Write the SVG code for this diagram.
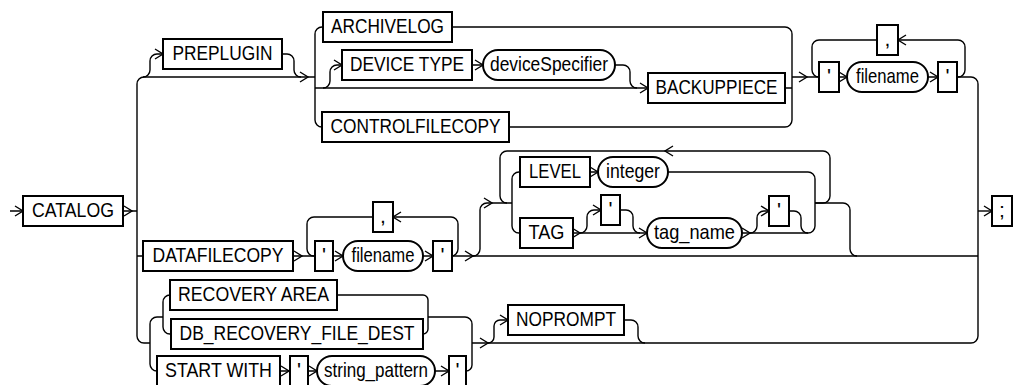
<svg xmlns="http://www.w3.org/2000/svg" xmlns:xlink="http://www.w3.org/1999/xlink" width="1013" height="385" viewBox="0 0 1013 385">
<style>
.b{fill:#fff;stroke:#000;stroke-width:2}
.c{fill:none;stroke:#000;stroke-width:1.4}
text{font-family:"Liberation Sans",Arial,sans-serif;font-size:21px;fill:#000;text-anchor:middle}
</style>
<defs>
<path id="ar" d="M-8,-5L0,0L-8,5" class="c"/>
<path id="al" d="M8,-5L0,0L8,5" class="c"/>
</defs>
<rect width="1013" height="385" fill="#fff"/>
<g id="connectors">
<path class="c" d="M10,211 H23 M123,211 H137"/>
<path class="c" d="M144,77 A7,7 0 0 0 137,84 V336 A7,7 0 0 0 144,343 H150 M137,256 H143"/>
<path class="c" d="M144,77 H315"/>
<path class="c" d="M143,77 A7,7 0 0 0 150,70 V61 A7,7 0 0 1 157,54 H163 M282,54 H287 A7,7 0 0 1 294,61 V70 A7,7 0 0 0 301,77"/>
<path class="c" d="M323,27 H322 A7,7 0 0 0 315,34 V120 A7,7 0 0 0 322,127"/>
<path class="c" d="M315,88 H648"/>
<path class="c" d="M323,88 A7,7 0 0 0 330,81 V72 A7,7 0 0 1 337,65 H342 M472,65 H483 M615,65 H623 A7,7 0 0 1 630,72 V81 A7,7 0 0 0 637,88"/>
<path class="c" d="M452,27 H785 A7,7 0 0 1 792,34 V120 A7,7 0 0 1 785,127 H509 M785,88 H792 M792,77 H819"/>
<path class="c" d="M839,77 H847 M928,77 H938 M957,77 H971 A7,7 0 0 1 978,84 V336"/>
<path class="c" d="M958,77 A7,7 0 0 0 965,70 V47 A7,7 0 0 0 958,40 H898 M877,40 H819 A7,7 0 0 0 812,47 V70 A7,7 0 0 0 819,77"/>
<path class="c" d="M978,211 H992"/>
<path class="c" d="M293,256 H315 M333,256 H343 M423,256 H433 M452,256 H978"/>
<path class="c" d="M451,256 A7,7 0 0 0 458,249 V224 A7,7 0 0 0 451,217 H393 M373,217 H314 A7,7 0 0 0 307,224 V249 A7,7 0 0 0 314,256"/>
<path class="c" d="M473,256 A7,7 0 0 0 480,249 V210 A7,7 0 0 1 487,203 H512"/>
<path class="c" d="M815,203 H823 A7,7 0 0 0 830,196 V158 A7,7 0 0 0 823,151 H507 A7,7 0 0 0 500,158 V196 A7,7 0 0 0 507,203"/>
<path class="c" d="M520,172 H519 A7,7 0 0 0 512,179 V226 A7,7 0 0 0 519,233 H520 M590,172 H598"/>
<path class="c" d="M668,172 H808 A7,7 0 0 1 815,179 V226 A7,7 0 0 1 808,233 H742"/>
<path class="c" d="M573,233 H647"/>
<path class="c" d="M580,233 A7,7 0 0 0 587,226 V217 A7,7 0 0 1 594,210 H601 M620,210 H626 A7,7 0 0 1 633,217 V226 A7,7 0 0 0 640,233"/>
<path class="c" d="M750,233 A7,7 0 0 0 757,226 V218 A7,7 0 0 1 764,211 H769 M789,211 H794 A7,7 0 0 1 801,218 V226 A7,7 0 0 0 808,233"/>
<path class="c" d="M815,203 H843 A7,7 0 0 1 850,210 V249 A7,7 0 0 0 857,256"/>
<path class="c" d="M157,317 A7,7 0 0 0 150,324 V364 A7,7 0 0 0 157,371 M157,317 H163"/>
<path class="c" d="M170,295 A7,7 0 0 0 163,302 V327 A7,7 0 0 0 170,334 H171"/>
<path class="c" d="M337,295 H423 A5,5 0 0 1 428,300 V329 A5,5 0 0 1 423,334"/>
<path class="c" d="M428,317 H465 A7,7 0 0 1 472,324 V365 A6,6 0 0 1 466,371"/>
<path class="c" d="M280,371 H290 M308,371 H317 M435,371 H449"/>
<path class="c" d="M472,343 H971 A7,7 0 0 0 978,336"/>
<path class="c" d="M488,343 A6,6 0 0 0 494,337 V326 A6,6 0 0 1 500,320 H508 M624,320 H631 A7,7 0 0 1 638,327 V336 A7,7 0 0 0 645,343"/>
<use href="#ar" x="23" y="211"/>
<use href="#ar" x="132" y="211"/>
<use href="#ar" x="163" y="54"/>
<use href="#ar" x="308" y="77"/>
<use href="#ar" x="342" y="65"/>
<use href="#ar" x="483" y="65"/>
<use href="#ar" x="648" y="88"/>
<use href="#ar" x="807" y="77"/>
<use href="#ar" x="847" y="77"/>
<use href="#ar" x="938" y="77"/>
<use href="#ar" x="992" y="211"/>
<use href="#ar" x="302" y="256"/>
<use href="#ar" x="343" y="256"/>
<use href="#ar" x="433" y="256"/>
<use href="#ar" x="473" y="256"/>
<use href="#ar" x="492" y="203"/>
<use href="#ar" x="598" y="172"/>
<use href="#ar" x="580" y="233"/>
<use href="#ar" x="601" y="210"/>
<use href="#ar" x="647" y="233"/>
<use href="#ar" x="750" y="233"/>
<use href="#ar" x="769" y="211"/>
<use href="#ar" x="289" y="371"/>
<use href="#ar" x="317" y="371"/>
<use href="#ar" x="449" y="371"/>
<use href="#ar" x="488" y="343"/>
<use href="#ar" x="508" y="320"/>
<use href="#al" x="898" y="40"/>
<use href="#al" x="393" y="217"/>
<use href="#al" x="665" y="151"/>
</g>
<g id="catalog"><rect class="b" x="23" y="196" width="100" height="30"/><text x="73" y="217" textLength="82" lengthAdjust="spacingAndGlyphs">CATALOG</text></g>
<g id="preplugin"><rect class="b" x="163" y="39" width="119" height="30"/><text x="222.5" y="60" textLength="100" lengthAdjust="spacingAndGlyphs">PREPLUGIN</text></g>
<g id="archivelog"><rect class="b" x="323" y="12" width="129" height="30"/><text x="387.5" y="33" textLength="113" lengthAdjust="spacingAndGlyphs">ARCHIVELOG</text></g>
<g id="device-type"><rect class="b" x="342" y="50" width="130" height="30"/><text x="407" y="71" textLength="114" lengthAdjust="spacingAndGlyphs">DEVICE TYPE</text></g>
<g id="device-specifier"><rect class="b" x="483" y="50" width="132" height="30" rx="15"/><text x="549" y="71" textLength="118" lengthAdjust="spacingAndGlyphs">deviceSpecifier</text></g>
<g id="backuppiece"><rect class="b" x="648" y="73" width="137" height="30"/><text x="716.5" y="94" textLength="122" lengthAdjust="spacingAndGlyphs">BACKUPPIECE</text></g>
<g id="controlfilecopy"><rect class="b" x="322" y="112" width="187" height="30"/><text x="415.5" y="133" textLength="170" lengthAdjust="spacingAndGlyphs">CONTROLFILECOPY</text></g>
<g id="quote1"><rect class="b" x="819" y="62" width="20" height="30"/><text x="829" y="83">'</text></g>
<g id="filename1"><rect class="b" x="847" y="62" width="81" height="30" rx="15"/><text x="887.5" y="83" textLength="63" lengthAdjust="spacingAndGlyphs">filename</text></g>
<g id="quote2"><rect class="b" x="938" y="62" width="19" height="30"/><text x="947.5" y="83">'</text></g>
<g id="comma1"><rect class="b" x="877" y="25" width="21" height="30"/><text x="887.5" y="46">,</text></g>
<g id="datafilecopy"><rect class="b" x="143" y="241" width="150" height="30"/><text x="218" y="262" textLength="131" lengthAdjust="spacingAndGlyphs">DATAFILECOPY</text></g>
<g id="quote3"><rect class="b" x="315" y="241" width="18" height="30"/><text x="324" y="262">'</text></g>
<g id="filename2"><rect class="b" x="343" y="241" width="80" height="30" rx="15"/><text x="383" y="262" textLength="63" lengthAdjust="spacingAndGlyphs">filename</text></g>
<g id="quote4"><rect class="b" x="433" y="241" width="19" height="30"/><text x="442.5" y="262">'</text></g>
<g id="comma2"><rect class="b" x="373" y="202" width="20" height="30"/><text x="383" y="223">,</text></g>
<g id="level"><rect class="b" x="520" y="157" width="70" height="30"/><text x="555" y="178" textLength="52" lengthAdjust="spacingAndGlyphs">LEVEL</text></g>
<g id="integer"><rect class="b" x="598" y="157" width="70" height="30" rx="15"/><text x="633" y="178" textLength="54" lengthAdjust="spacingAndGlyphs">integer</text></g>
<g id="tag"><rect class="b" x="520" y="218" width="53" height="30"/><text x="546.5" y="239" textLength="36" lengthAdjust="spacingAndGlyphs">TAG</text></g>
<g id="quote5"><rect class="b" x="601" y="195" width="19" height="30"/><text x="610.5" y="216">'</text></g>
<g id="tag-name"><rect class="b" x="647" y="218" width="95" height="30" rx="15"/><text x="694.5" y="239" textLength="81" lengthAdjust="spacingAndGlyphs">tag_name</text></g>
<g id="quote6"><rect class="b" x="769" y="196" width="20" height="30"/><text x="779" y="217">'</text></g>
<g id="recovery-area"><rect class="b" x="170" y="280" width="167" height="30"/><text x="253.5" y="301" textLength="151" lengthAdjust="spacingAndGlyphs">RECOVERY AREA</text></g>
<g id="db-recovery-file-dest"><rect class="b" x="171" y="319" width="252" height="30"/><text x="297" y="340" textLength="235" lengthAdjust="spacingAndGlyphs">DB_RECOVERY_FILE_DEST</text></g>
<g id="start-with"><rect class="b" x="157" y="356" width="123" height="30"/><text x="218.5" y="377" textLength="107" lengthAdjust="spacingAndGlyphs">START WITH</text></g>
<g id="quote7"><rect class="b" x="290" y="356" width="18" height="30"/><text x="299" y="377">'</text></g>
<g id="string-pattern"><rect class="b" x="317" y="356" width="118" height="30" rx="15"/><text x="376" y="377" textLength="104" lengthAdjust="spacingAndGlyphs">string_pattern</text></g>
<g id="quote8"><rect class="b" x="449" y="356" width="17" height="30"/><text x="457.5" y="377">'</text></g>
<g id="noprompt"><rect class="b" x="508" y="305" width="116" height="30"/><text x="566" y="326" textLength="100" lengthAdjust="spacingAndGlyphs">NOPROMPT</text></g>
<g id="semicolon"><rect class="b" x="992" y="196" width="20" height="30"/><text x="1002" y="217">;</text></g>
</svg>
